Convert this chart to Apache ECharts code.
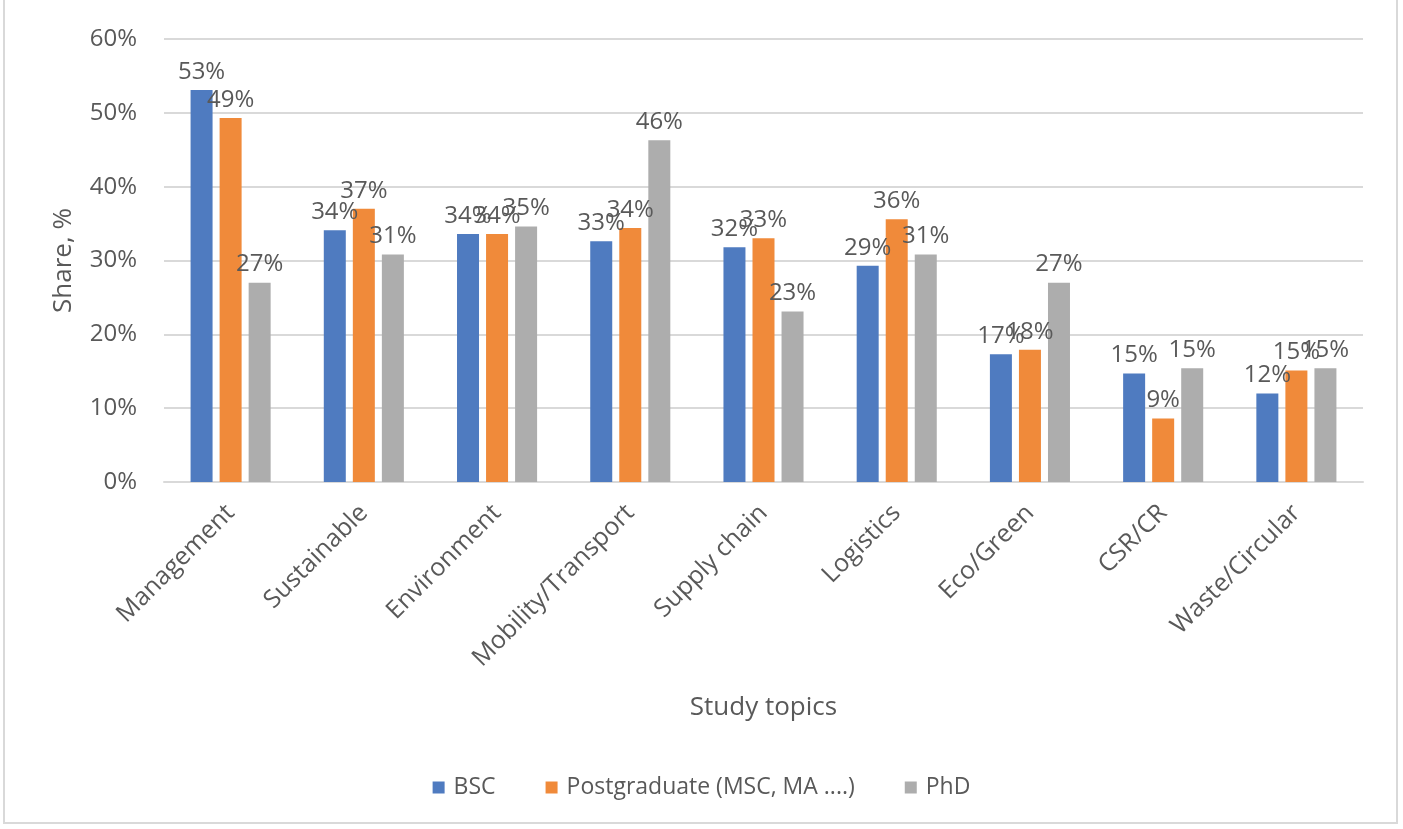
<!DOCTYPE html>
<html><head><meta charset="utf-8">
<script src="https://cdn.jsdelivr.net/npm/echarts@6/dist/echarts.min.js"></script>
<style>html,body{margin:0;padding:0;background:#fff}#c{width:1403px;height:829px}</style>
</head><body><div id="c"></div>
<script>
var categories = ['Management','Sustainable','Environment','Mobility/Transport','Supply chain','Logistics','Eco/Green','CSR/CR','Waste/Circular'];
var bsc = [53.1, 34.1, 33.6, 32.6, 31.8, 29.3, 17.3, 14.7, 12.0];
var postgrad = [49.3, 37.0, 33.6, 34.4, 33.0, 35.6, 17.9, 8.6, 15.1];
var phd = [27.0, 30.8, 34.6, 46.3, 23.1, 30.8, 27.0, 15.4, 15.4];
var seriesNames = ['BSC','Postgraduate (MSC, MA ....)','PhD'];
var yTicks = [0, 10, 20, 30, 40, 50, 60];

var FONT = '"Open Sans", "Noto Sans", sans-serif';
var TXT = '#595959';
var colors = ['#4F7BC0', '#F08A3A', '#ADADAD'];
function mk(name, data, i) {
  return {
    name: name, type: 'bar', data: data, barWidth: 22, barGap: '32%',
    itemStyle: { color: colors[i] },
    label: { show: true, position: 'top', distance: 6, color: TXT, fontFamily: FONT, fontSize: 24,
      formatter: function (p) { return Math.round(p.value) + '%'; } }
  };
}
var chart = echarts.init(document.getElementById('c'), null, { renderer: 'canvas' });
chart.setOption({
  animation: false,
  backgroundColor: '#fff',
  textStyle: { fontFamily: FONT },
  graphic: [{ type: 'rect', shape: { x: 4, y: -2, width: 1393, height: 825 }, style: { fill: 'none', stroke: '#D9D9D9', lineWidth: 2 }, silent: true }],
  color: colors,
  legend: {
    bottom: 25, left: 'center', itemWidth: 12, itemHeight: 12, itemGap: 50, icon: 'rect',
    textStyle: { color: TXT, fontSize: 23, fontFamily: FONT, padding: [0, 0, 0, 4] },
    data: seriesNames
  },
  grid: { left: 164, right: 40, top: 39, bottom: 347 },
  xAxis: {
    type: 'category', data: categories,
    name: 'Study topics', nameLocation: 'middle', nameGap: 213,
    nameTextStyle: { color: TXT, fontSize: 26, fontFamily: FONT },
    axisLine: { lineStyle: { color: '#D9D9D9', width: 2 } },
    axisTick: { show: false },
    axisLabel: { rotate: 45, color: TXT, fontSize: 25, fontFamily: FONT, margin: 27, interval: 0 }
  },
  yAxis: {
    type: 'value', min: yTicks[0], max: yTicks[yTicks.length - 1], interval: 10,
    name: 'Share, %', nameLocation: 'middle', nameGap: 87,
    nameTextStyle: { color: TXT, fontSize: 26, fontFamily: FONT },
    axisLine: { show: false }, axisTick: { show: false },
    axisLabel: { color: TXT, fontSize: 24, fontFamily: FONT, margin: 27, formatter: '{value}%' },
    splitLine: { lineStyle: { color: '#D9D9D9', width: 2 } }
  },
  series: [mk(seriesNames[0], bsc, 0), mk(seriesNames[1], postgrad, 1), mk(seriesNames[2], phd, 2)]
});
</script></body></html>
